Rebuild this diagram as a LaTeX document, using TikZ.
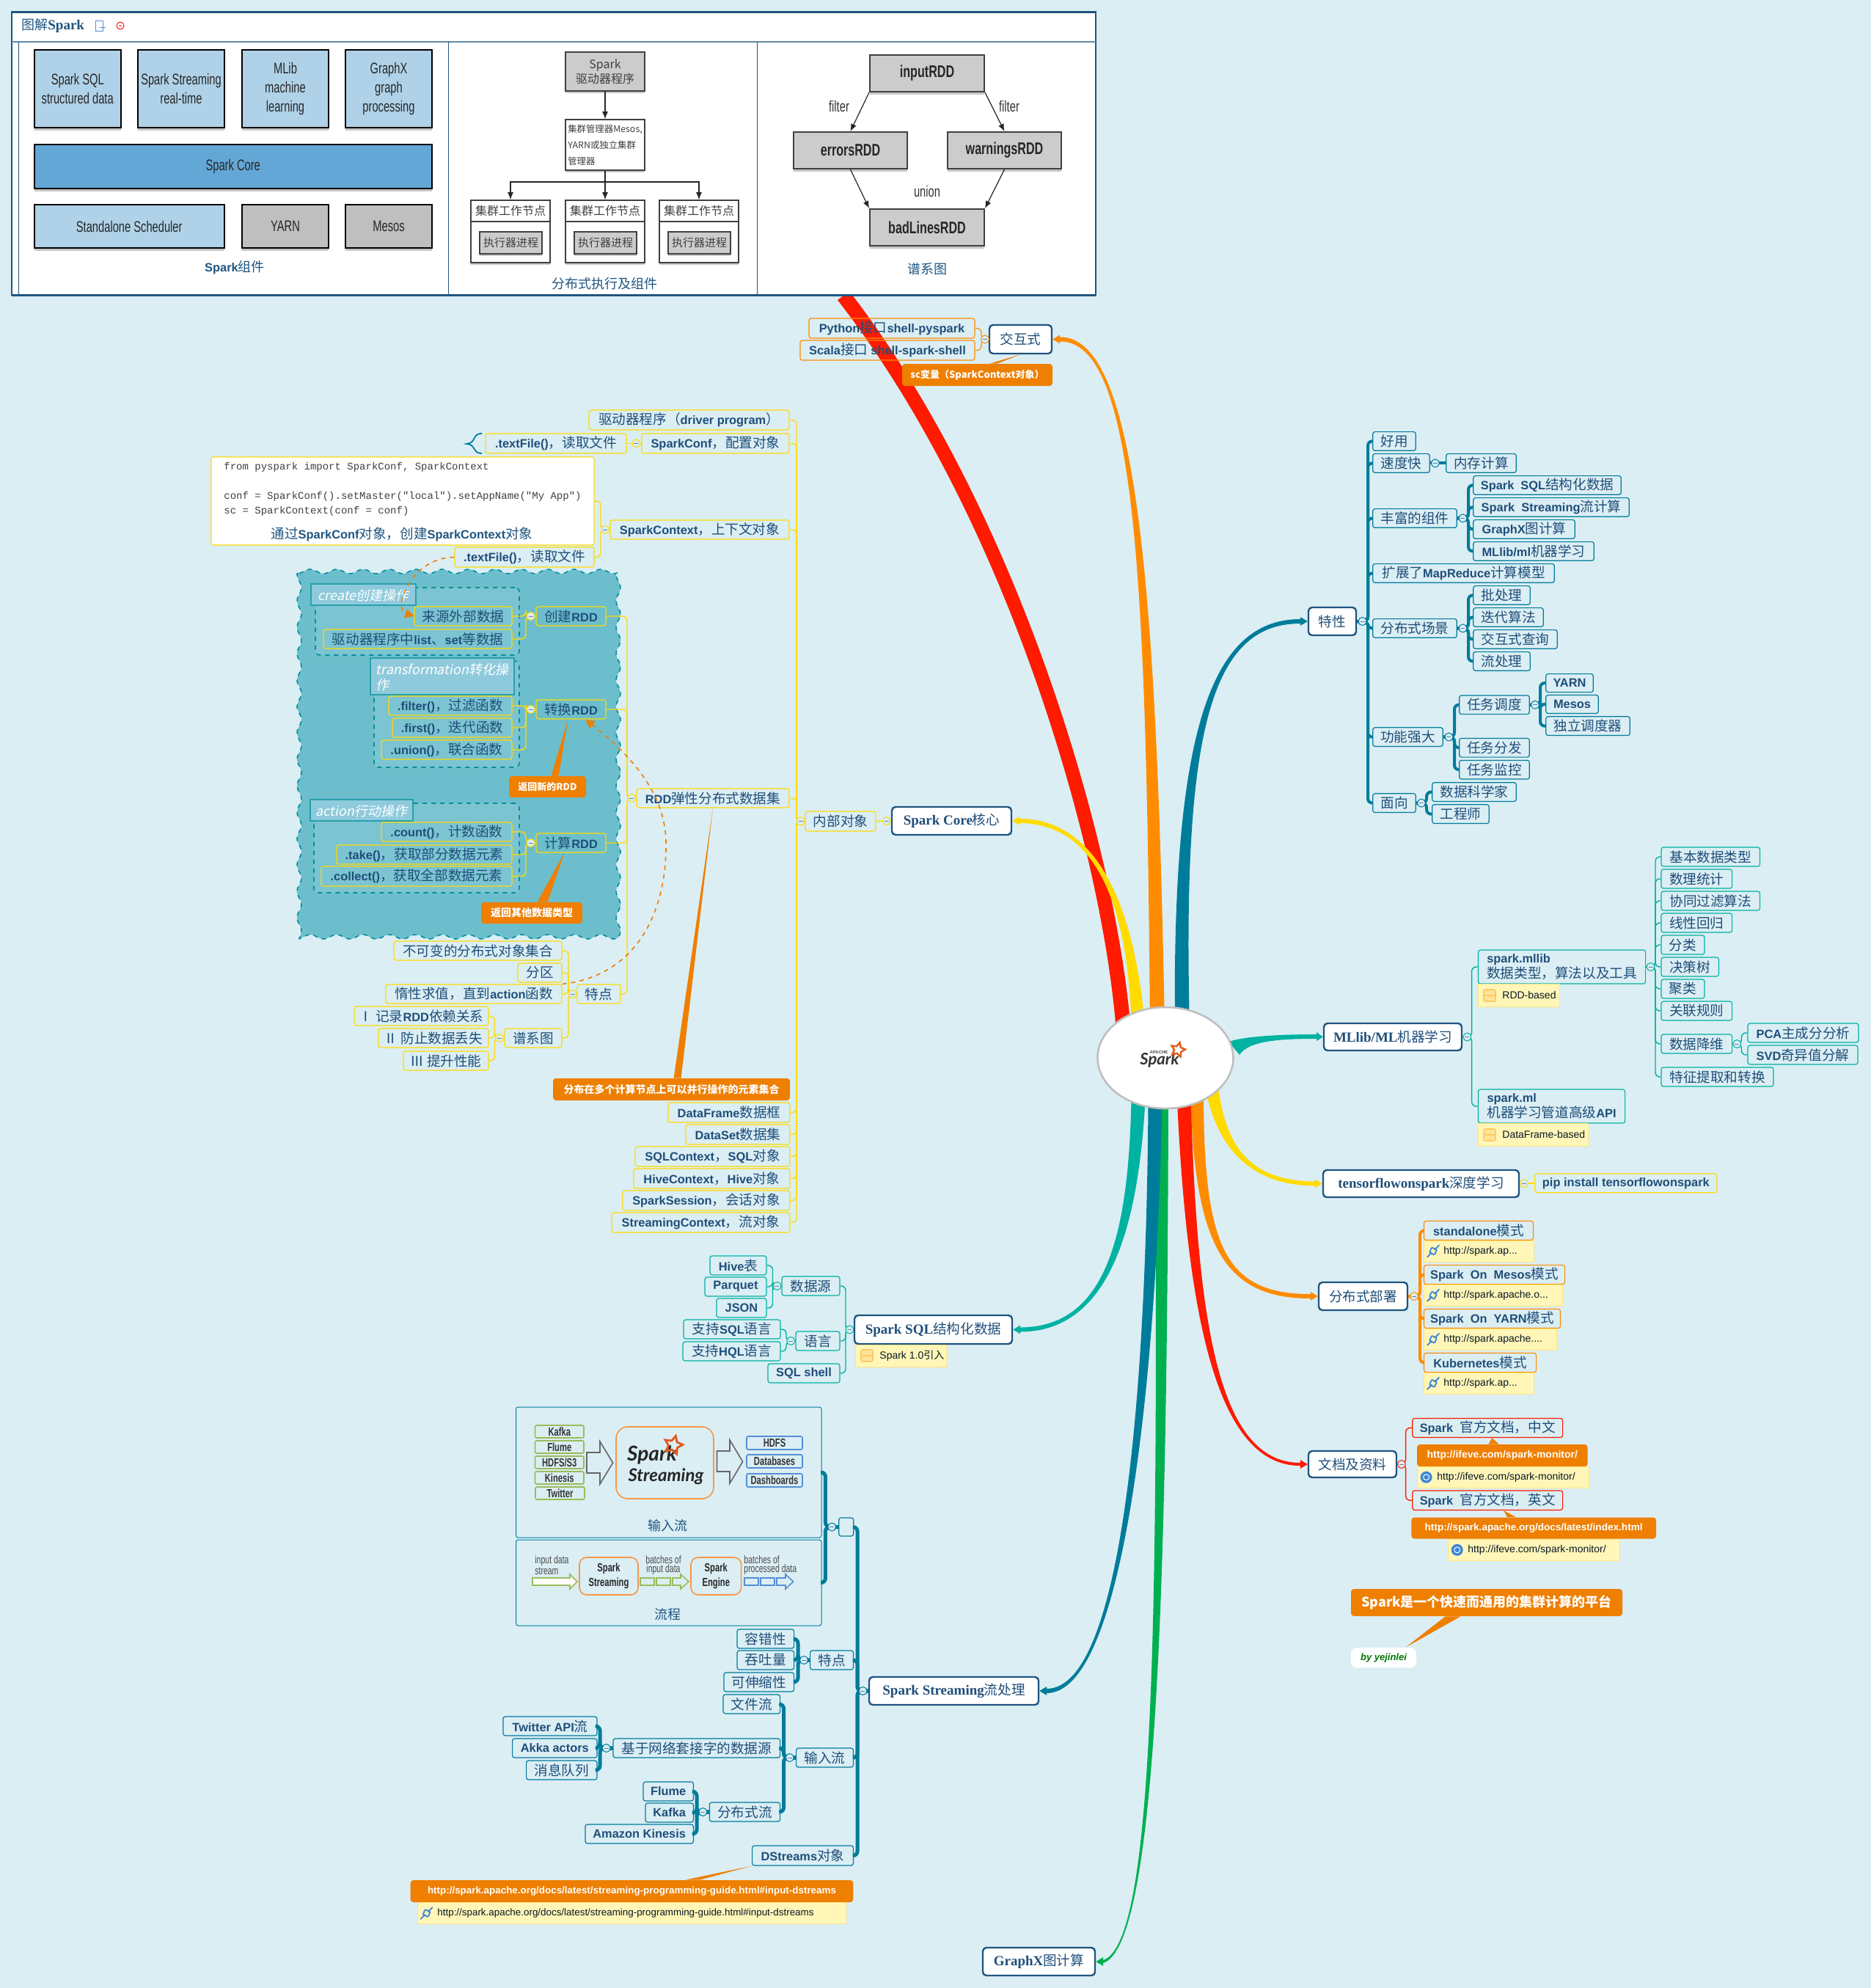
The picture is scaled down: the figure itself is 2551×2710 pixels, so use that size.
\documentclass[tikz,border=0pt]{standalone}
\usepackage{fontspec}
\setmainfont{Noto Sans CJK SC}
\newfontfamily\arialf{Liberation Sans}
\newfontfamily\timesf{Liberation Serif}
\newfontfamily\monof{Liberation Mono}
\newfontfamily\nar[FakeStretch=0.7]{Liberation Sans}
\newfontfamily\cjkit[FakeSlant=0.2]{Noto Sans CJK SC}
\newfontfamily\logof{Lato}
\usetikzlibrary{arrows.meta,calc,shapes.geometric}
\definecolor{bgc}{HTML}{DBEEF4}
\definecolor{cT}{HTML}{1F4E79}
\definecolor{cRootB}{HTML}{1F5580}
\definecolor{cY}{HTML}{FFDB00}
\definecolor{cTB}{HTML}{007C9B}
\definecolor{cG}{HTML}{00B2A1}
\definecolor{cO}{HTML}{FF8C00}
\definecolor{cR}{HTML}{FF1A00}
\definecolor{cGr}{HTML}{00B050}
\definecolor{cCall}{HTML}{EE7F00}
\definecolor{cNote}{HTML}{FFF6B8}
\definecolor{cNoteB}{HTML}{FFE680}
\definecolor{cCloud}{HTML}{6DBECC}
\definecolor{cFrame}{HTML}{7CC4D2}
\definecolor{cLab}{HTML}{8FCADC}
\definecolor{cDash}{HTML}{008F9C}
\definecolor{cLB}{HTML}{B0D2E8}
\definecolor{cMB}{HTML}{63A7D7}
\definecolor{cGy}{HTML}{BFBFBF}
\definecolor{cRG}{HTML}{CCCCCC}
\definecolor{cLinkB}{HTML}{3C85D8}
\definecolor{cPG}{HTML}{9BBB59}
\definecolor{cPB}{HTML}{558ED5}
\definecolor{cPO}{HTML}{F79646}
\definecolor{cStar}{HTML}{E25A1C}
\definecolor{cMemo}{HTML}{FFC966}
\newcommand{\bodyf}{\fontsize{9.3}{10.5}\selectfont}
\newcommand{\Ltn}[1]{{\fontsize{8.2}{10}\selectfont\arialf\bfseries #1}}
\newcommand{\Srf}[1]{{\fontsize{9.5}{11}\selectfont\timesf\bfseries #1}}
\pgfdeclarelayer{bglayer}
\pgfsetlayers{bglayer,main}
\tikzset{
 mm/.style={text=cT,font=\bodyf,rounded corners=1.5pt,line width=.6pt,align=center},
 yb/.style={mm,draw=cY},
 tb/.style={mm,draw=cTB},
 gb/.style={mm,draw=cG},
 ob/.style={mm,draw=cO},
 rb/.style={mm,draw=cR},
 rootb/.style={mm,draw=cRootB,fill=white,line width=1.2pt,rounded corners=2.5pt},
 callb/.style={fill=cCall,text=white,rounded corners=2pt,align=center,font=\fontsize{7}{9}\selectfont\bfseries},
 notebox/.style={fill=cNote,draw=cNoteB,line width=.5pt},
 notetext/.style={text=black!70!cT,font=\fontsize{7}{9}\selectfont\arialf,inner sep=0pt},
 cc/.style={circle,fill=bgc,draw=#1,line width=.5pt,inner sep=0pt,minimum size=5.5pt,
   path picture={\draw[line width=.5pt,cT!70] ([xshift=-1.5pt]path picture bounding box.center) -- ([xshift=1.5pt]path picture bounding box.center);}},
 pbx/.style={draw=black,line width=1pt,text=black!85,align=center,font=\fontsize{10.5}{13}\selectfont\nar,
   preaction={fill=black,opacity=.22,transform canvas={yshift=-2pt}}},
 rddb/.style={pbx,fill=cRG,draw=black!75,font=\fontsize{11.5}{13}\selectfont\nar\bfseries},
 wkb/.style={draw=black!75,line width=.8pt,fill=white,text=black!75,align=center,font=\fontsize{8}{10}\selectfont,
   preaction={fill=black,opacity=.22,transform canvas={yshift=-1.5pt}}},
 pgray/.style={wkb,fill=cRG},
 parrow/.style={draw=black!85,line width=.6pt,-{Latex[length=5pt,width=4pt]}},
 plabel/.style={text=cRootB,font=\fontsize{9}{10.5}\selectfont},
 ptxt/.style={text=black!80,font=\fontsize{10.5}{12}\selectfont\nar},
 frm/.style={draw=cDash,dashed,line width=.8pt,fill=cFrame,rounded corners=3pt},
 labb/.style={draw=cDash!85,line width=1pt,fill=cLab,text=white,align=left,font=\fontsize{9}{10.5}\selectfont\cjkit,text depth=0pt},
 imgfr/.style={draw=cTB,line width=.5pt,rounded corners=1.5pt},
 smg/.style={draw=cPG,line width=.8pt,rounded corners=1pt,text=black!80,font=\fontsize{8}{9}\selectfont\nar\bfseries},
 smb/.style={draw=cPB,line width=.8pt,rounded corners=1pt,text=black!80,font=\fontsize{8}{9}\selectfont\nar\bfseries},
 smo/.style={draw=cPO,line width=.8pt,rounded corners=5pt,text=black!85,align=center,font=\fontsize{8}{10}\selectfont\nar\bfseries},
 tinyt/.style={text=black!70,align=left,font=\fontsize{7.5}{6}\selectfont\nar,inner sep=0pt},
 dasharr/.style={draw=cCall,dashed,line width=.8pt,-{Triangle[length=6pt,width=6pt]}},
}
\newcommand{\bx}[7][]{\node[#1,inner sep=0pt,minimum width={((#5)-(#3))*0.5pt},minimum height={((#6)-(#4))*0.5pt}] (#2) at ({(#3+#5)/2},{(#4+#6)/2}) {#7};}
% trees: colour, width, parent, bar x, children
\newcommand{\tl}[5]{\coordinate (#3bar) at (#4,0);
 \foreach \c in {#5}{\draw[draw=#1,line width=#2,rounded corners=3pt] (#3.west) -- (#3bar |- #3.west) -- (#3bar |- \c.east) -- (\c.east);}
 \node[cc=#1] (#3cc) at ($(#3.west)!0.5!(#3bar |- #3.west)$) {};}
\newcommand{\tr}[5]{\coordinate (#3bar) at (#4,0);
 \foreach \c in {#5}{\draw[draw=#1,line width=#2,rounded corners=3pt] (#3.east) -- (#3bar |- #3.east) -- (#3bar |- \c.west) -- (\c.west);}
 \node[cc=#1] (#3cc) at ($(#3.east)!0.5!(#3bar |- #3.east)$) {};}
% single straight links: colour, width, parent, child, position of the circle (0..1)
\newcommand{\tls}[5]{\draw[draw=#1,line width=#2] (#3.west) -- (#4.east);
 \node[cc=#1] (#3cc) at ($(#3.west)!#5!(#4.east)$) {};}
\newcommand{\trs}[5]{\draw[draw=#1,line width=#2] (#3.east) -- (#4.west);
 \node[cc=#1] (#3cc) at ($(#3.east)!#5!(#4.west)$) {};}
% tapered branch: colour, end, dir, sign, start half width, end half width, start, c1, c2
\newcommand{\taper}[9]{\fill[#1] ($(#7)+(-#5,0)$) .. controls ($(#8)+(-0.7*#5,0)$) and ($(#9)+(0,{-1*(#4)*(#6)})$) .. ($(#2)+({-10*(#3)},{-1*(#4)*(#6)})$)
 -- ($(#2)+({-10*(#3)},{-6*(#4)})$) -- (#2) -- ($(#2)+({-10*(#3)},{6*(#4)})$) -- ($(#2)+({-10*(#3)},{(#4)*(#6)})$)
 .. controls ($(#9)+(0,{(#4)*(#6)})$) and ($(#8)+(0.7*#5,0)$) .. ($(#7)+(#5,0)$) -- cycle;}
\newcommand{\tipto}[4]{\fill[cCall] ($(#1)+(#2,0)$) -- (#4) -- ($(#1)+(#3,0)$) -- cycle;}
\newcommand{\nt}[7]{\node[notebox,inner sep=0pt,minimum width={(#4-#2)*0.5pt},minimum height={(#5-#3)*0.5pt}] (#1) at ({(#2+#4)/2},{(#3+#5)/2}) {};
 \node[notetext,anchor=west] (#1t) at (#6,{(#3+#5)/2}) {#7};}
\newcommand{\linkic}[2]{\draw[cLinkB,line width=.9pt,line cap=round,rounded corners=.5pt] (#1-8,#2+8) -- (#1-2,#2+2) (#1+2,#2-2) -- (#1+8,#2-8) (#1-5,#2+2) -- (#1+2,#2+5) -- (#1+5,#2-2) -- (#1-2,#2-5) -- cycle;}
\newcommand{\globeic}[2]{\fill[cLinkB] (#1,#2) circle (4pt); \draw[white,line width=.5pt] (#1,#2) circle (2pt);}
\newcommand{\memoic}[2]{\draw[draw=cMemo,fill=cMemo!40!cNote,line width=.8pt,rounded corners=1pt] (#1-8,#2-8) rectangle (#1+8,#2+8); \draw[draw=cMemo,line width=.8pt] (#1-8,#2) -- (#1+8,#2);}
\newcommand{\harrow}[9]{\draw[#8,#9,line width=.8pt] (#1,#5) -- (#3,#5) -- (#3,#4) -- (#2,{(#4+#7)/2}) -- (#3,#7) -- (#3,#6) -- (#1,#6) -- cycle;}
\newcommand{\wrk}[2]{\bx[wkb]{#1}{#2}{273}{#2+108}{358}{}
 \draw[black!75,line width=.8pt] (#2,302) -- (#2+108,302);
 \node[text=black!75,font=\fontsize{8}{10}\selectfont,inner sep=0pt] (#1t) at (#2+54,287) {集群工作节点};
 \bx[pgray,font=\fontsize{7.5}{9}\selectfont]{#1e}{#2+12}{316}{#2+97}{346}{执行器进程}}
\begin{document}
\begin{tikzpicture}[x=0.5pt,y=-0.5pt]
\useasboundingbox (0,0) rectangle (2551,2710);
\begin{pgfonlayer}{bglayer}
\fill[bgc] (0,0) rectangle (2551,2710);
\end{pgfonlayer}

%% ---- cloud area
\draw[draw=cDash,fill=cCloud,line width=.8pt,dashed] plot[domain=408:842,samples=150,smooth] (\x,{779+3*sin(10*\x)}) -- plot[domain=782:1274,samples=170,smooth] ({843+3*sin(10*\x)},\x) -- plot[domain=842:408,samples=150,smooth] (\x,{1277+3*sin(10*\x)}) -- plot[domain=1274:782,samples=170,smooth] ({408+3*sin(10*\x)},\x) -- cycle;
\bx[frm]{fcre}{430}{801}{708}{893}{}
\bx[frm]{ftra}{510}{901}{708}{1046}{}
\bx[frm]{fact}{428}{1095}{708}{1217}{}
\bx[labb]{lcre}{424}{796}{567}{825}{create创建操作}
\bx[labb]{ltra}{505}{897}{701}{947}{transformation转化操\\作}
\bx[labb]{lact}{423}{1090}{563}{1119}{action行动操作}

%% ---- central object
\node[ellipse,draw=cGy,fill=white,line width=1.3pt,minimum width=92.5pt,minimum height=69pt,inner sep=0pt] (root) at (1589,1442) {};
\node[text=black!80,font=\fontsize{11}{12}\selectfont\logof\bfseries\itshape,inner sep=0pt] (logot) at (1581,1445) {Spark};
\node[text=black!70,font=\fontsize{3}{3}\selectfont\arialf\bfseries,inner sep=0pt] (logoa) at (1580,1434) {APACHE};
\node[star,star points=5,star point ratio=2,draw=cStar,line width=1.2pt,inner sep=0pt,minimum size=10pt,rotate=-15] (logos) at (1606,1431) {};

%% ---- root level topics
\bx[rootb]{jh}{1349}{443}{1434}{482}{交互式}
\bx[rootb]{tx}{1784}{828}{1849}{866}{特性}
\bx[rootb]{core}{1216}{1100}{1379}{1138}{\Srf{Spark Core}核心}
\bx[rootb]{ml}{1805}{1395}{1993}{1432}{\Srf{MLlib/ML}机器学习}
\bx[rootb]{tf}{1804}{1595}{2071}{1632}{\Srf{tensorflowonspark}深度学习}
\bx[rootb]{dep}{1798}{1748}{1919}{1786}{分布式部署}
\bx[rootb]{sql}{1165}{1793}{1380}{1832}{\Srf{Spark SQL}结构化数据}
\bx[rootb]{doc}{1784}{1978}{1904}{2014}{文档及资料}
\bx[rootb]{ss}{1185}{2286}{1416}{2324}{\Srf{Spark Streaming}流处理}
\bx[rootb]{gx}{1340}{2655}{1493}{2693}{\Srf{GraphX}图计算}

%% ---- interactive
\bx[ob]{py}{1103}{434}{1329}{461}{\Ltn{Python}接口\Ltn{shell-pyspark}}
\bx[ob]{sc}{1091}{464}{1329}{491}{\Ltn{Scala}接口 \Ltn{shell-spark-shell}}
\bx[callb,font=\fontsize{6.5}{8}\selectfont\bfseries]{scv}{1230}{496}{1435}{526}{sc变量（SparkContext对象）}
\tipto{scv.north west}{120}{130}{jh.south}
\tl{cO}{.6pt}{jh}{1338}{py,sc}

%% ---- internal objects (left)
\bx[yb]{inner}{1098}{1106}{1194}{1133}{内部对象}
\tls{cY}{.7pt}{core}{inner}{.3}
\bx[yb]{drv}{803}{559}{1076}{586}{驱动器程序（\Ltn{driver program}）}
\bx[yb]{conf}{875}{591}{1076}{618}{\Ltn{SparkConf}，配置对象}
\bx[yb]{tfa}{662}{591}{854}{618}{\Ltn{.textFile()}，读取文件}
\tls{cY}{.7pt}{conf}{tfa}{.35}
\draw[cTB,line width=.9pt] (657,591) .. controls (643,591) and (650,604) .. (636,605) .. controls (650,606) and (643,618) .. (657,618);
\bx[draw=cY,fill=white,line width=.6pt,rounded corners=1.5pt]{nc}{288}{623}{810}{743}{}
\node[anchor=west,inner sep=0pt,text=black!75,align=left,font=\fontsize{7}{9.9}\selectfont\monof] (nct) at (305,667) {from pyspark import SparkConf, SparkContext\\[9.9pt]conf = SparkConf().setMaster("local").setAppName("My App")\\sc = SparkContext(conf = conf)};
\node[inner sep=0pt,text=cRootB,font=\bodyf] (ncc) at (548,728) {通过\Ltn{SparkConf}对象，创建\Ltn{SparkContext}对象};
\bx[yb]{ctx}{832}{709}{1076}{735}{\Ltn{SparkContext}，上下文对象}
\bx[yb]{tfb}{620}{746}{810}{773}{\Ltn{.textFile()}，读取文件}
\tl{cY}{.7pt}{ctx}{819}{nc,tfb}
\bx[yb]{rdd}{868}{1075}{1076}{1101}{\Ltn{RDD}弹性分布式数据集}
\bx[yb]{cre}{731}{827}{826}{853}{创建\Ltn{RDD}}
\bx[yb]{src}{565}{827}{698}{853}{来源外部数据}
\bx[yb]{lst}{441}{858}{698}{884}{驱动器程序中\Ltn{list}、\Ltn{set}等数据}
\tl{cY}{.7pt}{cre}{717}{src,lst}
\bx[yb]{tra}{731}{954}{826}{980}{转换\Ltn{RDD}}
\bx[yb]{fil}{530}{949}{698}{975}{\Ltn{.filter()}，过滤函数}
\bx[yb]{fir}{535}{979}{698}{1005}{\Ltn{.first()}，迭代函数}
\bx[yb]{uni}{520}{1009}{698}{1035}{\Ltn{.union()}，联合函数}
\tl{cY}{.7pt}{tra}{717}{fil,fir,uni}
\bx[yb]{act}{731}{1136}{826}{1162}{计算\Ltn{RDD}}
\bx[yb]{cnt}{520}{1121}{698}{1147}{\Ltn{.count()}，计数函数}
\bx[yb]{tak}{459}{1152}{698}{1178}{\Ltn{.take()}，获取部分数据元素}
\bx[yb]{col}{438}{1181}{698}{1208}{\Ltn{.collect()}，获取全部数据元素}
\tl{cY}{.7pt}{act}{717}{cnt,tak,col}
\bx[callb,font=\fontsize{6.5}{8}\selectfont\bfseries]{cnew}{694}{1058}{799}{1087}{返回新的RDD}
\tipto{cnew.north west}{58}{68}{[xshift=-2pt]tra.south}
\bx[callb]{coth}{656}{1230}{794}{1259}{返回其他数据类型}
\tipto{coth.north west}{77}{91}{[xshift=-4.5pt]act.south}
\bx[yb]{imm}{537}{1283}{766}{1309}{不可变的分布式对象集合}
\bx[yb]{par}{706}{1313}{766}{1339}{分区}
\bx[yb]{lazy}{526}{1342}{766}{1368}{惰性求值，直到\Ltn{action}函数}
\bx[yb]{trt}{787}{1342}{846}{1368}{特点}
\bx[yb]{lin}{688}{1402}{766}{1428}{谱系图}
\bx[yb]{l1}{483}{1372}{666}{1398}{Ⅰ 记录\Ltn{RDD}依赖关系}
\bx[yb]{l2}{516}{1402}{666}{1428}{Ⅱ 防止数据丢失}
\bx[yb]{l3}{550}{1433}{666}{1459}{Ⅲ 提升性能}
\tl{cY}{.7pt}{trt}{775}{imm,par,lazy,lin}
\tl{cY}{.7pt}{lin}{674.5}{l1,l2,l3}
\tl{cY}{.7pt}{rdd}{855}{cre,tra,act,trt}
\bx[callb]{cdis}{754}{1470}{1077}{1500}{分布在多个计算节点上可以并行操作的元素集合}
\tipto{cdis.north west}{165}{175}{rdd.south}
\bx[yb]{df}{911}{1503}{1077}{1530}{\Ltn{DataFrame}数据框}
\bx[yb]{ds}{935}{1533}{1077}{1560}{\Ltn{DataSet}数据集}
\bx[yb]{sctx}{866}{1563}{1077}{1590}{\Ltn{SQLContext}，\Ltn{SQL}对象}
\bx[yb]{hctx}{864}{1593}{1077}{1620}{\Ltn{HiveContext}，\Ltn{Hive}对象}
\bx[yb]{sess}{849}{1623}{1077}{1650}{\Ltn{SparkSession}，会话对象}
\bx[yb]{stm}{834}{1653}{1077}{1680}{\Ltn{StreamingContext}，流对象}
\tl{cY}{.7pt}{inner}{1086}{drv,conf,ctx,rdd,df,ds,sctx,hctx,sess,stm}
\draw[dasharr] (tfb.west) .. controls (560,760) and (535,830) .. (src.west);
\draw[dasharr] (lazy.north east) .. controls (870,1330) and (910,1240) .. (908,1146) .. controls (906,1080) and (860,1030) .. ([xshift=10pt]tra.south);

%% ---- Spark SQL
\bx[gb]{hv}{968}{1712}{1045}{1738}{\Ltn{Hive}表}
\bx[gb]{pq}{961}{1741}{1045}{1767}{\Ltn{Parquet}}
\bx[gb]{js}{977}{1770}{1045}{1796}{\Ltn{JSON}}
\bx[gb]{dsrc}{1066}{1740}{1145}{1766}{数据源}
\bx[gb]{ssq}{932}{1799}{1064}{1825}{支持\Ltn{SQL}语言}
\bx[gb]{shq}{931}{1829}{1064}{1855}{支持\Ltn{HQL}语言}
\bx[gb]{lng}{1085}{1815}{1145}{1841}{语言}
\bx[gb]{ssh}{1047}{1859}{1145}{1885}{\Ltn{SQL shell}}
\tl{cG}{.7pt}{dsrc}{1053.5}{hv,pq,js}
\tl{cG}{.7pt}{lng}{1072}{ssq,shq}
\tl{cG}{.7pt}{sql}{1153}{dsrc,lng,ssh}
\nt{nsq}{1166}{1833}{1290}{1863}{1199}{Spark 1.0{\rmfamily 引入}}
\memoic{1182}{1848}

%% ---- Spark Streaming images
\bx[imgfr]{fin}{703.5}{1918}{1120}{2096}{}
\bx[imgfr]{ffl}{703.5}{2099}{1120}{2216}{}
\node[plabel,inner sep=0pt] (lfin) at (910.6,2080) {输入流};
\node[plabel,inner sep=0pt] (lffl) at (910.6,2201) {流程};
\bx[smg]{ka}{729.5}{1943}{796}{1960}{Kafka}
\bx[smg]{fl}{729.5}{1964}{796}{1981}{Flume}
\bx[smg]{hs}{729.5}{1985}{796}{2002}{HDFS/S3}
\bx[smg]{ki}{729.5}{2006}{796}{2023}{Kinesis}
\bx[smg]{tw}{730}{2027}{797}{2044}{Twitter}
\harrow{800}{835.6}{818}{1965}{1980}{2008}{2023}{draw=black!60}{fill=none}
\bx[draw=cPO,line width=.8pt,rounded corners=8pt]{sslogo}{840}{1945}{973}{2043}{}
\node[text=black!85,font=\fontsize{14}{15}\selectfont\logof\bfseries\itshape,inner sep=0pt] (ssl1) at (889,1983) {Spark};
\node[text=black!85,font=\fontsize{12}{13}\selectfont\logof\bfseries\itshape,inner sep=0pt] (ssl2) at (908,2013) {Streaming};
\node[star,star points=5,star point ratio=2,draw=cStar,line width=1.4pt,inner sep=0pt,minimum size=13pt,rotate=-15] (ssl3) at (918,1970) {};
\harrow{977.5}{1012.6}{995}{1963}{1978}{2006}{2022}{draw=black!60}{fill=none}
\bx[smb]{hd}{1018}{1958}{1094}{1976}{HDFS}
\bx[smb]{db}{1018}{1983}{1094}{2001}{Databases}
\bx[smb]{da}{1018}{2009}{1094}{2027}{Dashboards}
\node[tinyt,anchor=west] (ti1) at (729,2134) {input data\\stream};
\harrow{726}{787}{777}{2146}{2151}{2161}{2166}{draw=cPG}{fill=white}
\bx[smo]{fs}{790}{2123}{870}{2174}{Spark\\Streaming}
\node[tinyt,align=center] (ti2) at (904.5,2134) {batches of\\input data};
\draw[cPG,line width=.8pt] (873,2151) rectangle (892,2161) (895,2151) rectangle (914,2161);
\harrow{917}{939}{928}{2146}{2151}{2161}{2166}{draw=cPG}{fill=none}
\bx[smo]{fe}{942}{2123}{1010.6}{2174}{Spark\\Engine}
\node[tinyt,anchor=west] (ti3) at (1014,2134) {batches of\\processed data};
\draw[cPB,line width=.8pt] (1015,2151) rectangle (1034,2161) (1037,2151) rectangle (1056,2161);
\harrow{1059}{1081.5}{1071}{2146}{2151}{2161}{2166}{draw=cPB}{fill=none}

%% ---- Spark Streaming tree
\bx[tb]{blank}{1143.7}{2069}{1163.7}{2094}{}
\tl{cTB}{2.5pt}{blank}{1125.4}{fin,ffl}
\bx[tb]{ztr}{1104.6}{2250}{1163.4}{2276}{特点}
\bx[tb]{rc}{1005}{2221}{1082.6}{2247}{容错性}
\bx[tb]{tp}{1005}{2250}{1082.6}{2276}{吞吐量}
\bx[tb]{sc2}{987}{2280}{1082.6}{2306}{可伸缩性}
\tl{cTB}{2.5pt}{ztr}{1088}{rc,tp,sc2}
\bx[tb]{ist}{1085.6}{2383}{1163.4}{2409}{输入流}
\bx[tb]{fst}{986}{2310}{1063.6}{2336}{文件流}
\bx[tb]{net}{836}{2370}{1063.6}{2396}{基于网络套接字的数据源}
\bx[tb]{twa}{686}{2340}{814}{2366}{\Ltn{Twitter API}流}
\bx[tb]{akk}{698.6}{2370}{814}{2396}{\Ltn{Akka actors}}
\bx[tb]{msg}{717.6}{2400}{814}{2426}{消息队列}
\tl{cTB}{2.5pt}{net}{818}{twa,akk,msg}
\bx[tb]{dst}{967.4}{2457}{1063.6}{2483}{分布式流}
\bx[tb]{flu}{877}{2429}{945.4}{2455}{\Ltn{Flume}}
\bx[tb]{kaf}{880}{2458}{945.4}{2484}{\Ltn{Kafka}}
\bx[tb]{ama}{798}{2487}{945.4}{2513}{\Ltn{Amazon Kinesis}}
\tl{cTB}{2.5pt}{dst}{950}{flu,kaf,ama}
\tl{cTB}{2.5pt}{ist}{1068.5}{fst,net,dst}
\bx[tb]{dso}{1025.6}{2516}{1163.4}{2543}{\Ltn{DStreams}对象}
\tl{cTB}{2.5pt}{ss}{1169}{blank,ztr,ist,dso}
\bx[callb,font=\fontsize{6.7}{8}\selectfont\arialf\bfseries]{cds}{559.6}{2563}{1163.4}{2593}{http://spark.apache.org/docs/latest/streaming-programming-guide.html\#input-dstreams}
\tipto{cds.north west}{375}{395}{dso.south west}
\nt{nds}{569.4}{2593}{1153.6}{2622.7}{596}{\fontsize{6.7}{8}\selectfont http://spark.apache.org/docs/latest/streaming-programming-guide.html\#input-dstreams}
\linkic{581.6}{2608}

%% ---- features
\bx[tb]{hy}{1871.7}{588.6}{1930.3}{614.3}{好用}
\bx[tb]{sd}{1871.7}{618.6}{1949.3}{644.3}{速度快}
\bx[tb]{mem}{1971.7}{618.6}{2067.3}{644.3}{内存计算}
\trs{cTB}{2pt}{sd}{mem}{.33}
\bx[tb]{cmp}{1871.7}{693.6}{1986.3}{719.3}{丰富的组件}
\bx[tb]{c1}{2008.7}{648.6}{2210.3}{674.3}{\Ltn{Spark~~SQL}结构化数据}
\bx[tb]{c2}{2008.7}{678.6}{2221.3}{704.3}{\Ltn{Spark~~Streaming}流计算}
\bx[tb]{c3}{2008.7}{708.6}{2147.3}{734.3}{\Ltn{GraphX}图计算}
\bx[tb]{c4}{2008.7}{738.6}{2173.3}{764.3}{\Ltn{MLlib/ml}机器学习}
\tr{cTB}{2pt}{cmp}{2002}{c1,c2,c3,c4}
\bx[tb]{mr}{1871.7}{768.6}{2119.3}{794.3}{扩展了\Ltn{MapReduce}计算模型}
\bx[tb]{dsc}{1871.7}{843.6}{1986.3}{869.3}{分布式场景}
\bx[tb]{s1}{2008.7}{798.6}{2086.3}{824.3}{批处理}
\bx[tb]{s2}{2008.7}{828.6}{2104.3}{854.3}{迭代算法}
\bx[tb]{s3}{2008.7}{858.6}{2123.3}{884.3}{交互式查询}
\bx[tb]{s4}{2008.7}{888.6}{2086.3}{914.3}{流处理}
\tr{cTB}{2pt}{dsc}{2002}{s1,s2,s3,s4}
\bx[tb]{pow}{1871.7}{991.8}{1967.3}{1017.5}{功能强大}
\bx[tb]{ta}{1989.7}{947.9}{2085.3}{973.6}{任务调度}
\bx[tb]{ya}{2107.7}{918.6}{2172.3}{943.6}{\Ltn{YARN}}
\bx[tb]{me}{2107.7}{947.5}{2179.3}{972.5}{\Ltn{Mesos}}
\bx[tb]{ind}{2107.7}{976.8}{2222.3}{1002.5}{独立调度器}
\tr{cTB}{2pt}{ta}{2100}{ya,me,ind}
\bx[tb]{tb2}{1989.7}{1006.4}{2085.3}{1032.1}{任务分发}
\bx[tb]{tc}{1989.7}{1036.4}{2085.3}{1062}{任务监控}
\tr{cTB}{2pt}{pow}{1983}{ta,tb2,tc}
\bx[tb]{fa}{1871.7}{1081.8}{1930.3}{1107.5}{面向}
\bx[tb]{fa1}{1952.7}{1066.8}{2067.3}{1092.5}{数据科学家}
\bx[tb]{fa2}{1952.7}{1096.8}{2030.3}{1122.5}{工程师}
\tr{cTB}{2pt}{fa}{1945}{fa1,fa2}
\tr{cTB}{2pt}{tx}{1865}{hy,sd,cmp,mr,dsc,pow,fa}

%% ---- MLlib
\bx[gb,align=left]{mll}{2015.5}{1295}{2243.6}{1341}{\Ltn{spark.mllib}\\数据类型，算法以及工具}
\bx[gb,align=left]{mlp}{2015.5}{1485}{2215.6}{1531}{\Ltn{spark.ml}\\机器学习管道高级\Ltn{API}}
\nt{nrd}{2015.5}{1341}{2126.6}{1372.7}{2048}{RDD-based}
\memoic{2031}{1357}
\nt{ndf}{2015.5}{1531}{2165.4}{1562.7}{2048}{DataFrame-based}
\memoic{2031}{1547}
\tr{cG}{.7pt}{ml}{2006.6}{mll,mlp}
\bx[gb]{a1}{2265}{1155}{2399.5}{1181}{基本数据类型}
\bx[gb]{a2}{2265}{1185}{2361.6}{1211}{数理统计}
\bx[gb]{a3}{2265}{1215}{2399.5}{1241}{协同过滤算法}
\bx[gb]{a4}{2265}{1245}{2361.6}{1271}{线性回归}
\bx[gb]{a5}{2265}{1275}{2324}{1301}{分类}
\bx[gb]{a6}{2265}{1305}{2343.4}{1331}{决策树}
\bx[gb]{a7}{2265}{1335}{2324}{1361}{聚类}
\bx[gb]{a8}{2265}{1365}{2361.6}{1391}{关联规则}
\bx[gb]{a9}{2265}{1410}{2361.6}{1436}{数据降维}
\bx[gb]{a10}{2265}{1455}{2418}{1481}{特征提取和转换}
\bx[gb]{pca}{2383}{1395}{2534}{1421}{\Ltn{PCA}主成分分析}
\bx[gb]{svd}{2383}{1425}{2533}{1451}{\Ltn{SVD}奇异值分解}
\tr{cG}{.7pt}{a9}{2374.4}{pca,svd}
\tr{cG}{.7pt}{mll}{2257}{a1,a2,a3,a4,a5,a6,a7,a8,a9,a10}

%% ---- tensorflow
\bx[yb]{pip}{2092.7}{1600}{2341}{1625.7}{\Ltn{pip install tensorflowonspark}}
\trs{cY}{.8pt}{tf}{pip}{.3}

%% ---- deployment
\bx[ob]{d1}{1941.5}{1664.4}{2090.4}{1690.5}{\Ltn{standalone}模式}
\nt{n1}{1941.5}{1691.3}{2091.5}{1720}{1968}{http://spark.ap...}
\linkic{1954}{1705.5}
\bx[ob]{d2}{1941.5}{1724.6}{2133.6}{1750.7}{\Ltn{Spark~~On~~Mesos}模式}
\nt{n2}{1941.5}{1751.5}{2130.5}{1780}{1968}{http://spark.apache.o...}
\linkic{1954}{1765.7}
\bx[ob]{d3}{1941.5}{1784.4}{2127.5}{1810.5}{\Ltn{Spark~~On~~YARN}模式}
\nt{n3}{1941.5}{1811.3}{2122}{1840.3}{1968}{http://spark.apache....}
\linkic{1954}{1825.8}
\bx[ob]{d4}{1941.5}{1844.5}{2094.6}{1870.6}{\Ltn{Kubernetes}模式}
\nt{n4}{1941.5}{1871.5}{2091.5}{1900}{1968}{http://spark.ap...}
\linkic{1954}{1885.7}
\tr{cO}{2pt}{dep}{1936}{d1,d2,d3,d4}

%% ---- documents
\bx[rb]{dz}{1925.8}{1933.4}{2130.6}{1959.4}{\Ltn{Spark~~}官方文档，中文}
\bx[rb]{de}{1925.8}{2032}{2130.6}{2058.4}{\Ltn{Spark~~}官方文档，英文}
\tr{cR}{.7pt}{doc}{1916.6}{dz,de}
\bx[callb,font=\fontsize{7}{9}\selectfont\arialf\bfseries]{cz}{1932}{1969}{2164.6}{1999}{http://ifeve.com/spark-monitor/}
\tipto{cz.north west}{98}{112}{[xshift=3pt]dz.south}
\nt{nz}{1932.3}{1999}{2166.5}{2028.5}{1959}{http://ifeve.com/spark-monitor/}
\globeic{1944.6}{2013.7}
\bx[callb,font=\fontsize{6.8}{9}\selectfont\arialf\bfseries]{ce}{1924.3}{2068.5}{2258}{2097.5}{http://spark.apache.org/docs/latest/index.html}
\tipto{ce.north west}{131}{143}{[xshift=11pt]de.south}
\nt{ne}{1974.4}{2098.3}{2208.6}{2127.4}{2001}{http://ifeve.com/spark-monitor/}
\globeic{1986.7}{2112.8}
\bx[callb,font=\fontsize{9}{11}\selectfont\bfseries]{cs}{1842}{2166}{2212}{2203}{Spark是一个快速而通用的集群计算的平台}
\bx[fill=white,rounded corners=4pt,text=green!45!black,font=\fontsize{6.5}{8}\selectfont\arialf\bfseries\itshape]{by}{1842}{2246}{1931}{2273.4}{by yejinlei}
\tipto{cs.south west}{129}{150}{[xshift=15pt]by.north}

%% ---- main branches under everything
\begin{pgfonlayer}{bglayer}
\fill[cR] (1521,1395) .. controls (1500,1150) and (1372,705) .. (1142,409) -- (1158,397) .. controls (1388,695) and (1520,1150) .. (1541,1395) -- cycle;
\taper{cY}{core.east}{-1}{-1}{9}{3}{1552,1400}{1545,1280}{1515,1120}
\taper{cO}{jh.east}{-1}{-1}{10}{3}{1578,1400}{1570,800}{1550,461}
\taper{cTB}{tx.west}{1}{1}{10}{3}{1612,1400}{1605,1000}{1650,847}
\fill[cG] (1675,1420) .. controls (1700,1412) and (1750,1410) .. (1795,1410) -- (1795,1407) -- (ml.west) -- (1795,1419) -- (1795,1416) .. controls (1750,1416) and (1702,1418) .. (1690,1438) -- cycle;
\taper{cY}{tf.west}{1}{-1}{9}{3}{1652,1480}{1665,1570}{1710,1613}
\taper{cO}{dep.west}{1}{-1}{9}{3}{1632,1490}{1635,1700}{1670,1767}
\taper{cR}{doc.west}{1}{-1}{9.5}{2}{1614,1490}{1625,1800}{1660,1996}
\taper{cGr}{gx.east}{-1}{1}{9}{2}{1584,1500}{1585,2200}{1575,2650}
\taper{cTB}{ss.east}{-1}{1}{9.5}{3}{1575,1500}{1570,1900}{1530,2305}
\taper{cG}{sql.east}{-1}{1}{9.5}{3}{1552,1500}{1545,1680}{1510,1812}
\end{pgfonlayer}

%% ---- top panel
\draw[draw=cRootB,fill=white,line width=.6pt] (16,16) rectangle (1494,402);
\draw[cRootB,line width=1.5pt] (16,16) -- (1494,16) (16,402) -- (1494,402);
\draw[cRootB!70,line width=1pt] (16,57) -- (1494,57);
\draw[cRootB,line width=.5pt] (25,57) -- (25,402) (611,57) -- (611,402) (1032,57) -- (1032,402);
\node[plabel,anchor=west,inner sep=0pt] (ptitle) at (29,35) {图解\Srf{Spark}};
\draw[cPB,line width=.5pt] (130,28) rectangle (140,42);
\draw[cPB,line width=.5pt] (136,37) -- (144,37) (140,33) -- (140,41);
\draw[red!80,line width=.6pt] (164,35) circle (2.5pt) (162,35) -- (166,35);
\bx[pbx,fill=cLB]{p1}{46.5}{68}{165}{174}{Spark SQL\\structured data}
\bx[pbx,fill=cLB]{p2}{188}{68}{306}{174}{Spark Streaming\\real-time}
\bx[pbx,fill=cLB]{p3}{330}{68}{448}{174}{MLib\\machine\\learning}
\bx[pbx,fill=cLB]{p4}{471}{68}{589}{174}{GraphX\\graph\\processing}
\bx[pbx,fill=cMB]{p5}{46.5}{197}{589}{257}{Spark Core}
\bx[pbx,fill=cLB]{p6}{46.5}{279}{306}{338}{Standalone Scheduler}
\bx[pbx,fill=cGy]{p7}{330}{279}{448}{338}{YARN}
\bx[pbx,fill=cGy]{p8}{471}{279}{589}{338}{Mesos}
\node[plabel,inner sep=0pt] (lp1) at (320,365) {\Ltn{Spark}组件};
\bx[pgray]{drvp}{771}{71}{879}{124}{Spark\\驱动器程序}
\bx[wkb,align=left,font=\fontsize{6.2}{11}\selectfont]{cm}{771}{163}{879}{232}{集群管理器Mesos,\\YARN或独立集群\\管理器}
\wrk{w1}{642}
\wrk{w2}{771}
\wrk{w3}{899}
\coordinate (bus) at (825,248);
\draw[parrow] (drvp.south) -- (cm.north);
\draw[parrow] (cm.south) -- (w2.north);
\draw[parrow] (cm.south) -- (bus) -| (w1.north);
\draw[parrow] (cm.south) -- (bus) -| (w3.north);
\node[plabel,inner sep=0pt] (lp2) at (824,387) {分布式执行及组件};
\bx[rddb]{inp}{1186}{75}{1342}{125}{inputRDD}
\bx[rddb]{err}{1082}{180}{1237}{230}{errorsRDD}
\bx[rddb]{war}{1292}{180}{1447}{230}{warningsRDD}
\bx[rddb]{bad}{1186}{285}{1342}{335}{badLinesRDD}
\draw[parrow] (inp.south west) -- (err.north);
\draw[parrow] (inp.south east) -- (war.north);
\draw[parrow] (err.south) -- (bad.north west);
\draw[parrow] (war.south) -- (bad.north east);
\node[ptxt,inner sep=0pt] (lf1) at (1144,145) {filter};
\node[ptxt,inner sep=0pt] (lf2) at (1376,145) {filter};
\node[ptxt,inner sep=0pt] (lf3) at (1264,261) {union};
\node[plabel,inner sep=0pt] (lp3) at (1264,367) {谱系图};
\end{tikzpicture}
\end{document}
